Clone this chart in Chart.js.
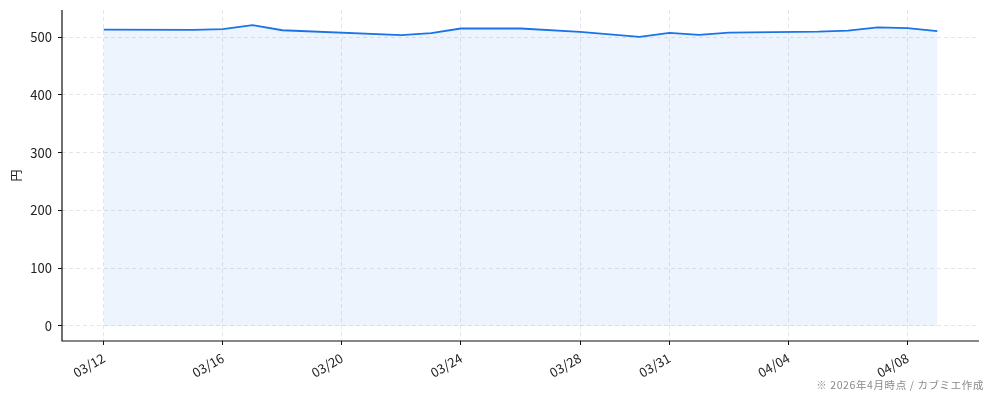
<!DOCTYPE html>
<html>
<head>
<meta charset="utf-8">
<script src="https://cdn.jsdelivr.net/npm/chart.js@4"></script>
<style>
  html, body { margin: 0; padding: 0; background: #fff; }
  #wrap { width: 994px; height: 401px; position: relative; }
</style>
</head>
<body>
<div id="wrap"><canvas id="c"></canvas></div>
<script>
// price history (円), one entry per recorded date
const dates = ["2026-03-12", "2026-03-15", "2026-03-16", "2026-03-17", "2026-03-18", "2026-03-22",
  "2026-03-23", "2026-03-24", "2026-03-26", "2026-03-28", "2026-03-30", "2026-03-31",
  "2026-04-01", "2026-04-02", "2026-04-05", "2026-04-06", "2026-04-07", "2026-04-08", "2026-04-09"];
const prices = [513, 512.5, 514, 521, 512, 503.5, 507, 515, 515, 509, 500.5, 507.5,
  504, 508, 509.5, 511.5, 517, 515.5, 510.5];
const tickDates = ["2026-03-12", "2026-03-16", "2026-03-20", "2026-03-24", "2026-03-28",
  "2026-03-31", "2026-04-04", "2026-04-08"];
const tickLabels = ["03/12", "03/16", "03/20", "03/24", "03/28", "03/31", "04/04", "04/08"];
const yTicks = [0, 100, 200, 300, 400, 500];

const FONT = "'Noto Sans CJK JP', 'Noto Sans', sans-serif";
const LINE = "#1a73e8";
const t0 = Date.parse(dates[0]);
const dayOf = (s) => Math.round((Date.parse(s) - t0) / 86400000);

const points = dates.map((d, i) => ({ x: dayOf(d), y: prices[i] }));
const tickDays = tickDates.map(dayOf);
const span = dayOf(dates[dates.length - 1]);
const yMax = Math.max(...prices);

// left + bottom spines, plus the footnote
const extras = {
  id: "extras",
  afterDraw(chart) {
    const { ctx, chartArea: a } = chart;
    ctx.save();
    ctx.strokeStyle = "#111";
    ctx.lineWidth = 1.2;
    ctx.beginPath();
    ctx.moveTo(a.left, a.top);
    ctx.lineTo(a.left, a.bottom);
    ctx.lineTo(a.right, a.bottom);
    ctx.stroke();
    ctx.fillStyle = "#8a8a8a";
    ctx.font = "10.5px " + FONT;
    ctx.textAlign = "right";
    ctx.textBaseline = "middle";
    ctx.letterSpacing = "0.6px";
    ctx.fillText("※ 2026年4月時点 / カブミエ作成", chart.width - 10, 385);
    ctx.restore();
  },
};

new Chart(document.getElementById("c"), {
  type: "line",
  data: {
    datasets: [{
      data: points,
      borderColor: LINE,
      backgroundColor: "rgba(26,115,232,0.08)",
      fill: "origin",
      borderWidth: 1.8,
      pointRadius: 0,
      tension: 0,
    }],
  },
  options: {
    responsive: true,
    maintainAspectRatio: false,
    animation: false,
    layout: { padding: { top: 10, right: 15, left: 0, bottom: 0 } },
    plugins: { legend: { display: false }, tooltip: { enabled: false } },
    scales: {
      x: {
        type: "linear",
        min: -span * 0.05,
        max: span * 1.05,
        afterBuildTicks: (s) => { s.ticks = tickDays.map((v) => ({ value: v })); },
        afterFit: (s) => { s.height = 60; s.paddingLeft = 0; s.paddingRight = 0; },
        ticks: {
          autoSkip: false,
          maxRotation: 30,
          minRotation: 30,
          padding: 5,
          color: "#222",
          font: { family: FONT, size: 13 },
          callback: (v, i) => tickLabels[i],
        },
        grid: {
          color: "rgba(170,178,192,0.32)",
          tickColor: "#111",
          tickLength: 4,
          tickBorderDash: [],
        },
        border: { display: false, dash: [4, 3] },
      },
      y: {
        min: -yMax * 0.05,
        max: yMax * 1.05,
        afterBuildTicks: (s) => { s.ticks = yTicks.map((v) => ({ value: v })); },
        afterFit: (s) => { s.width = 62; s.paddingTop = 0; s.paddingBottom = 0; },
        ticks: {
          padding: 6,
          color: "#222",
          font: { family: FONT, size: 13 },
        },
        title: {
          display: true,
          text: "円",
          color: "#222",
          font: { family: FONT, size: 12 },
          padding: { top: 9, bottom: 0 },
        },
        grid: {
          color: "rgba(170,178,192,0.32)",
          tickColor: "#111",
          tickLength: 4,
          tickBorderDash: [],
        },
        border: { display: false, dash: [4, 3] },
      },
    },
  },
  plugins: [extras],
});
</script>
</body>
</html>
